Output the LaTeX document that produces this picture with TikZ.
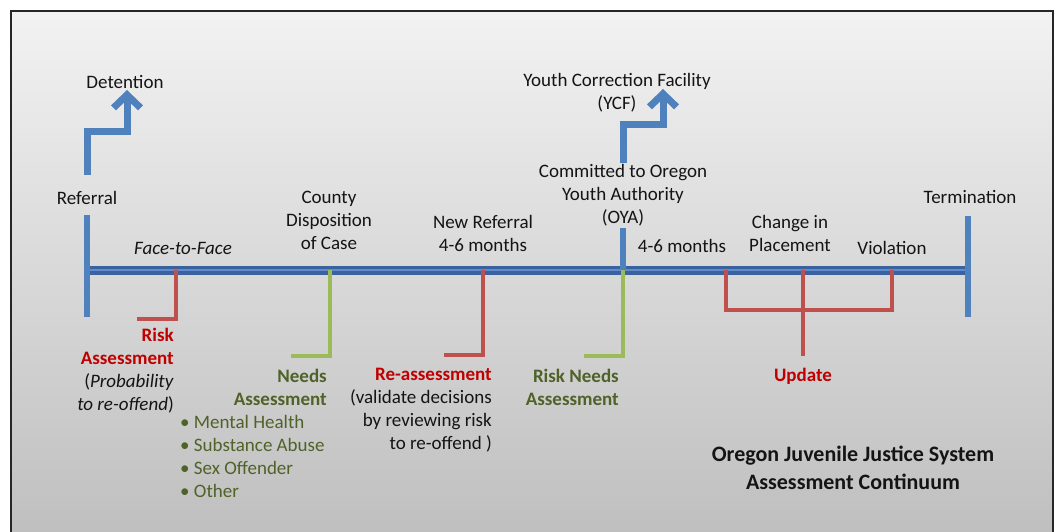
\documentclass[tikz,border=0pt]{standalone}
\usepackage{fontspec}
\setmainfont{Carlito}
\usetikzlibrary{arrows.meta,positioning}

\definecolor{lineblue}{RGB}{79,129,189}
\definecolor{bardark}{RGB}{58,98,158}
\definecolor{barlight}{RGB}{96,140,204}
\definecolor{linered}{RGB}{192,80,77}
\definecolor{linegreen}{RGB}{155,187,89}
\definecolor{risktext}{RGB}{192,0,0}
\definecolor{needtext}{RGB}{79,98,40}
\definecolor{darktext}{RGB}{20,20,20}

\tikzstyle{txt} = [font=\fontsize{19}{23}\selectfont, align=center, text=darktext, inner sep=0pt]
\tikzstyle{risktxt} = [txt, align=right, text=risktext]
\tikzstyle{needtxt} = [txt, align=right, text=needtext]
\tikzstyle{blueline} = [draw=lineblue, line width=6pt]
\tikzstyle{redline} = [draw=linered, line width=4pt]
\tikzstyle{greenline} = [draw=linegreen, line width=4pt]
\tikzstyle{jump} = [draw=lineblue, line width=7pt, -{Straight Barb[length=13pt,width=27pt]}]

\begin{document}
\begin{tikzpicture}[auto,x=1pt,y=-1pt]
	\useasboundingbox (0,0) rectangle (1060,532);

	% grey panel with its frame
	\shade [top color=black!5, bottom color=black!25] (11,11) rectangle (1053,532);
	\draw [line width=2pt, black!85] (11,532) -- (11,11) -- (1053,11) -- (1053,532);

	% put the texts above the line
	\node [txt] (det) at (125,82) {Detention};
	\node [txt] (ref) at (87,198) {Referral};
	\node [txt,font=\fontsize{19}{23}\selectfont\itshape] (f2f) at (183,248) {Face-to-Face};
	\node [txt] (county) at (329,220) {County\\Disposition\\of Case};
	\node [txt] (newref) at (483,233) {New Referral\\4-6 months};
	\node [txt] (oya) at (623,195) {Committed to Oregon\\Youth Authority\\(OYA)};
	\node [txt] (ycf) at (617,93) {Youth Correction Facility\\(YCF)};
	\node [txt] (months) at (682,246) {4-6 months};
	\node [txt] (place) at (790,233) {Change in\\Placement};
	\node [txt] (viol) at (892,248) {Violation};
	\node [txt] (term) at (970,197) {Termination};

	% texts below the line
	\node [risktxt,anchor=east] (risk) at (174,371)
		{\textbf{Risk}\\\textbf{Assessment}\\{\color{darktext}(\textit{Probability}}\\{\color{darktext}\textit{to re-offend})}};
	\node [needtxt,anchor=east] (needs) at (327,387) {\textbf{Needs}\\\textbf{Assessment}};
	\node [txt,align=left,text=needtext,anchor=west] (items) at (180,456)
		{\textbullet\ Mental Health\\\textbullet\ Substance Abuse\\\textbullet\ Sex Offender\\\textbullet\ Other};
	\node [risktxt,anchor=east] (reass) at (492,410)
		{\textbf{Re-assessment}\\{\color{darktext}(validate decisions}\\{\color{darktext}by reviewing risk}\\{\color{darktext}to re-offend )}};
	\node [needtxt,anchor=east] (rna) at (619,387) {\textbf{Risk Needs}\\\textbf{Assessment}};
	\node [risktxt,anchor=center,align=center] (upd) at (803,376) {\textbf{Update}};

	\node [txt,font=\fontsize{22}{28}\selectfont\bfseries] (title) at (853,468)
		{Oregon Juvenile Justice System\\Assessment Continuum};

	% points on the time line
	\coordinate (t0) at (88,270);
	\coordinate (t1) at (967,270);
	\coordinate (pr) at (176,270);
	\coordinate (pn) at (330,270);
	\coordinate (pa) at (483,270);
	\coordinate (po) at (623,270);
	\coordinate (pm) at (726,270);
	\coordinate (pp) at (803,270);
	\coordinate (pv) at (892,270);

	% the time line
	\draw [draw=bardark, line width=9pt] (t0) -- (t1);
	\draw [draw=barlight, line width=2.5pt] (t0) -- (t1);
	\draw [blueline] (87,215) coordinate (r0) -- (87,317) coordinate (r1);
	\draw [blueline] (968,216) coordinate (e0) -- (968,317) coordinate (e1);
	\draw [blueline] (623,228) coordinate (o0) -- (po);

	% branches going up
	\draw [jump] (87,175) coordinate (d0) -- (87,132) -- (127,132) -- (127,90) coordinate (d1);
	\draw [jump] (623,163) coordinate (y0) -- (623,125) -- (663,125) -- (663,89) coordinate (y1);

	% assessments hanging under the line
	\draw [redline] (pr) -- (176,319) -- (137,319) coordinate (rr);
	\draw [greenline] (pn) -- (330,356) -- (291,356) coordinate (nn);
	\draw [redline] (pa) -- (483,355) -- (444,355) coordinate (aa);
	\draw [greenline] (po) -- (623,356) -- (584,356) coordinate (oo);

	% update bracket
	\draw [redline] (pm) -- (726,310) -- (892,310) -- (pv);
	\draw [redline] (pp) -- (803,356) coordinate (uu);

\end{tikzpicture}
\end{document}
